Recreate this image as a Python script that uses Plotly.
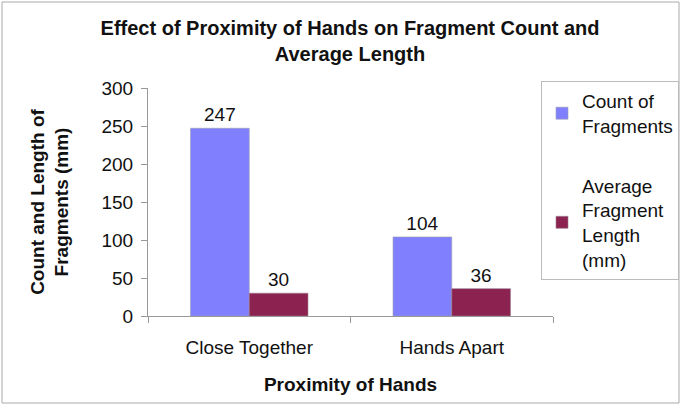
import plotly.graph_objects as go

categories = ["Close Together", "Hands Apart"]
count_values = [247, 104]
length_values = [30, 36]
series_names = ["Count of<br>Fragments", "Average<br>Fragment<br>Length<br>(mm)"]
y_ticks = [0, 50, 100, 150, 200, 250, 300]

W, H = 682, 406
L, R, T, B = 148, 129, 88, 90
pw, ph = W - L - R, H - T - B

def px_x(p):
    return (p - L) / pw

def px_y(p):
    return (H - B - p) / ph

font = "Liberation Sans, Arial, sans-serif"
fs = 19
txt = "#111"

fig = go.Figure()
fig.add_trace(go.Bar(
    x=categories, y=count_values, name=series_names[0],
    marker=dict(color="#8080FF", line=dict(color="#9a9ab0", width=0.6)),
    text=count_values, textposition="outside", cliponaxis=False,
    textfont=dict(size=fs, color=txt, family=font),
    legendgroup="a",
))
fig.add_trace(go.Bar(
    x=categories, y=length_values, name=series_names[1],
    marker=dict(color="#8B2250", line=dict(color="#9a8090", width=0.6)),
    text=length_values, textposition="outside", cliponaxis=False,
    textfont=dict(size=fs, color=txt, family=font),
    legendgroup="b",
))

fig.update_layout(
    width=W, height=H,
    margin=dict(l=L, r=R, t=T, b=B, autoexpand=False),
    paper_bgcolor="white", plot_bgcolor="white",
    font=dict(family=font, size=fs, color=txt),
    barmode="group", bargap=0.42, bargroupgap=0,
    title=dict(
        text="<b>Effect of Proximity of Hands on Fragment Count and<br>Average Length</b>",
        x=px_x(350), xref="paper", xanchor="center",
        y=1 - 35 / H, yanchor="top",
        font=dict(size=20, color=txt, family=font),
    ),
    xaxis=dict(
        automargin=False,
        showline=True, linecolor="#999", linewidth=1,
        ticks="outside", tickson="boundaries", ticklen=6, tickcolor="#999",
        ticklabelstandoff=14,
        tickfont=dict(size=fs, color=txt),
        title=dict(text="<b>Proximity of Hands</b>", font=dict(size=fs, color=txt), standoff=20),
    ),
    yaxis=dict(
        automargin=False,
        range=[0, 300], tickvals=y_ticks, showgrid=False, zeroline=False,
        showline=True, linecolor="#999", linewidth=1,
        ticks="outside", ticklen=6, tickcolor="#999",
        ticklabelstandoff=4,
        tickfont=dict(size=fs, color=txt),
        title=dict(text="<b>Count and Length of<br>Fragments (mm)</b>", font=dict(size=fs, color=txt), standoff=27),
    ),
    legend=dict(
        x=px_x(541), y=px_y(81), xanchor="left", yanchor="top",
        bordercolor="#bbb", borderwidth=1, bgcolor="white",
        font=dict(size=fs, color=txt, family=font),
        traceorder="grouped", tracegroupgap=32, itemwidth=30,
    ),
    shapes=[dict(
        type="rect", xref="paper", yref="paper",
        x0=px_x(2), x1=px_x(679), y0=px_y(403), y1=px_y(2),
        line=dict(color="#aaa", width=1), layer="below",
    )],
)

fig.write_html("out.html", config={"displayModeBar": False},
               post_script="document.body.style.margin='0';")
